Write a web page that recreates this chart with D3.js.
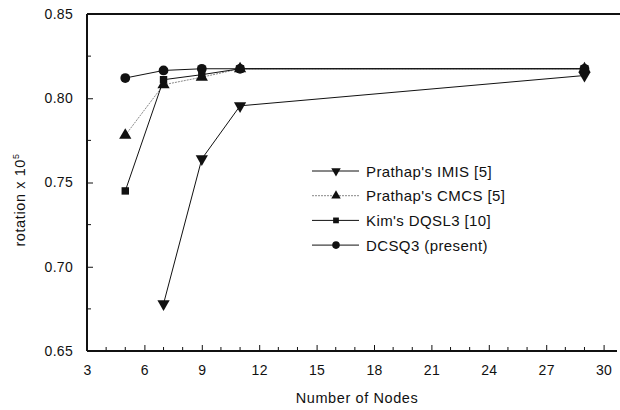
<!DOCTYPE html>
<html>
<head>
  <meta charset="utf-8">
  <title>rotation vs nodes</title>
  <style>
    body { margin: 0; background: #fff; }
    text { font-family: "Liberation Sans", Arial, sans-serif; fill: #111; }
    .tick text { font-size: 14px; letter-spacing: 0.3px; }
    .lbl { font-size: 14.5px; }
    .leg text { font-size: 15px; }
  </style>
</head>
<body>
  <svg id="canvas"></svg>
  <script src="https://d3js.org/d3.v7.min.js"></script>
  <script>
    const nodes = [5, 7, 9, 11, 29];
    const imis_x = [7, 9, 11, 29];
    const imis = [0.678, 0.764, 0.7955, 0.8135];
    const cmcs = [0.778, 0.808, 0.8125, 0.8175, 0.8175];
    const dqsl3 = [0.745, 0.811, 0.814, 0.8175, 0.8175];
    const dcsq3 = [0.812, 0.8165, 0.8175, 0.8175, 0.8175];

    const series = [
      { name: "Prathap's IMIS [5]", xs: imis_x, ys: imis, sym: d3.symbolTriangle, flip: true, size: 65, dash: null, w: 1 },
      { name: "Prathap's CMCS [5]", xs: nodes, ys: cmcs, sym: d3.symbolTriangle, flip: false, size: 65, dash: "2,1", w: 0.7 },
      { name: "Kim's DQSL3 [10]", xs: nodes, ys: dqsl3, sym: d3.symbolSquare, flip: false, size: 55, dash: null, w: 1 },
      { name: "DCSQ3 (present)", xs: nodes, ys: dcsq3, sym: d3.symbolCircle, flip: false, size: 75, dash: null, w: 1 }
    ];

    const W = 620, H = 410;
    const m = { left: 87, top: 14, right: 3, bottom: 59 };

    const svg = d3.select("#canvas").attr("width", W).attr("height", H);

    const x = d3.scaleLinear().domain([3, 30.7]).range([m.left, W - m.right]);
    const y = d3.scaleLinear().domain([0.65, 0.85]).range([H - m.bottom, m.top]);

    // x axis, ticks point inward
    const xa = svg.append("g").attr("transform", "translate(0," + y(0.65) + ")");
    xa.call(d3.axisBottom(x).tickValues(d3.range(3, 31, 3)).tickSize(-6).tickPadding(14).tickFormat(d3.format("d")));
    xa.selectAll(".minor").data(d3.range(3, 31).filter(v => v % 3)).enter().append("line")
      .attr("x1", d => x(d)).attr("x2", d => x(d)).attr("y1", 0).attr("y2", -4).attr("stroke", "#111");
    xa.select(".domain").attr("stroke-width", 2).attr("d", "M" + x(3) + ",0H" + x(30.7));

    // y axis, ticks point inward
    const ya = svg.append("g").attr("transform", "translate(" + x(3) + ",0)");
    ya.call(d3.axisLeft(y).tickValues([0.65, 0.70, 0.75, 0.80, 0.85]).tickSize(-6).tickPadding(14).tickFormat(d3.format(".2f")));
    ya.selectAll(".minor").data([0.675, 0.725, 0.775, 0.825]).enter().append("line")
      .attr("x1", 0).attr("x2", 4).attr("y1", d => y(d)).attr("y2", d => y(d)).attr("stroke", "#111");
    ya.select(".domain").attr("stroke-width", 2).attr("d", "M0," + y(0.65) + "V" + y(0.85));
    ya.selectAll(".tick line").filter(d => d === 0.85 || d === 0.65).remove();

    // top frame line
    svg.append("line").attr("x1", x(3)).attr("x2", W).attr("y1", y(0.85)).attr("y2", y(0.85))
      .attr("stroke", "#111").attr("stroke-width", 2);

    svg.selectAll(".domain, .tick line").attr("stroke", "#111");

    // axis labels
    svg.append("text").attr("class", "lbl").attr("x", 357).attr("y", 403)
      .attr("text-anchor", "middle").style("letter-spacing", "0.6px").text("Number of Nodes");
    const yl = svg.append("text").attr("class", "lbl").attr("text-anchor", "middle")
      .attr("transform", "translate(25,200)rotate(-90)").style("letter-spacing", "0.6px");
    yl.append("tspan").text("rotation x 10");
    yl.append("tspan").attr("dy", -6).style("font-size", "9px").text("5");

    // series
    const line = d3.line();
    series.forEach(s => {
      const pts = s.xs.map((v, i) => [x(v), y(s.ys[i])]);
      svg.append("path").attr("d", line(pts)).attr("fill", "none")
        .attr("stroke", s.dash ? "#555" : "#111").attr("stroke-width", s.w)
        .attr("stroke-dasharray", s.dash);
      svg.selectAll(null).data(pts).enter().append("path")
        .attr("d", d3.symbol().type(s.sym).size(s.size))
        .attr("transform", p => "translate(" + p[0] + "," + p[1] + ")" + (s.flip ? "rotate(180)" : ""))
        .attr("fill", "#111");
    });

    // legend
    const lg = svg.append("g").attr("class", "leg").attr("transform", "translate(312,171)");
    series.forEach((s, i) => {
      const g = lg.append("g").attr("transform", "translate(0," + (i * 24.7) + ")");
      g.append("line").attr("x1", 0).attr("x2", 47).attr("y1", 0).attr("y2", 0)
        .attr("stroke", s.dash ? "#555" : "#111").attr("stroke-width", s.w).attr("stroke-dasharray", s.dash);
      g.append("path").attr("d", d3.symbol().type(s.sym).size(s.size * 0.6))
        .attr("transform", "translate(24,0)" + (s.flip ? "rotate(180)" : "")).attr("fill", "#111");
      g.append("text").attr("x", 54).attr("y", 5.5).style("letter-spacing", "0.4px").text(s.name);
    });
  </script>
</body>
</html>
